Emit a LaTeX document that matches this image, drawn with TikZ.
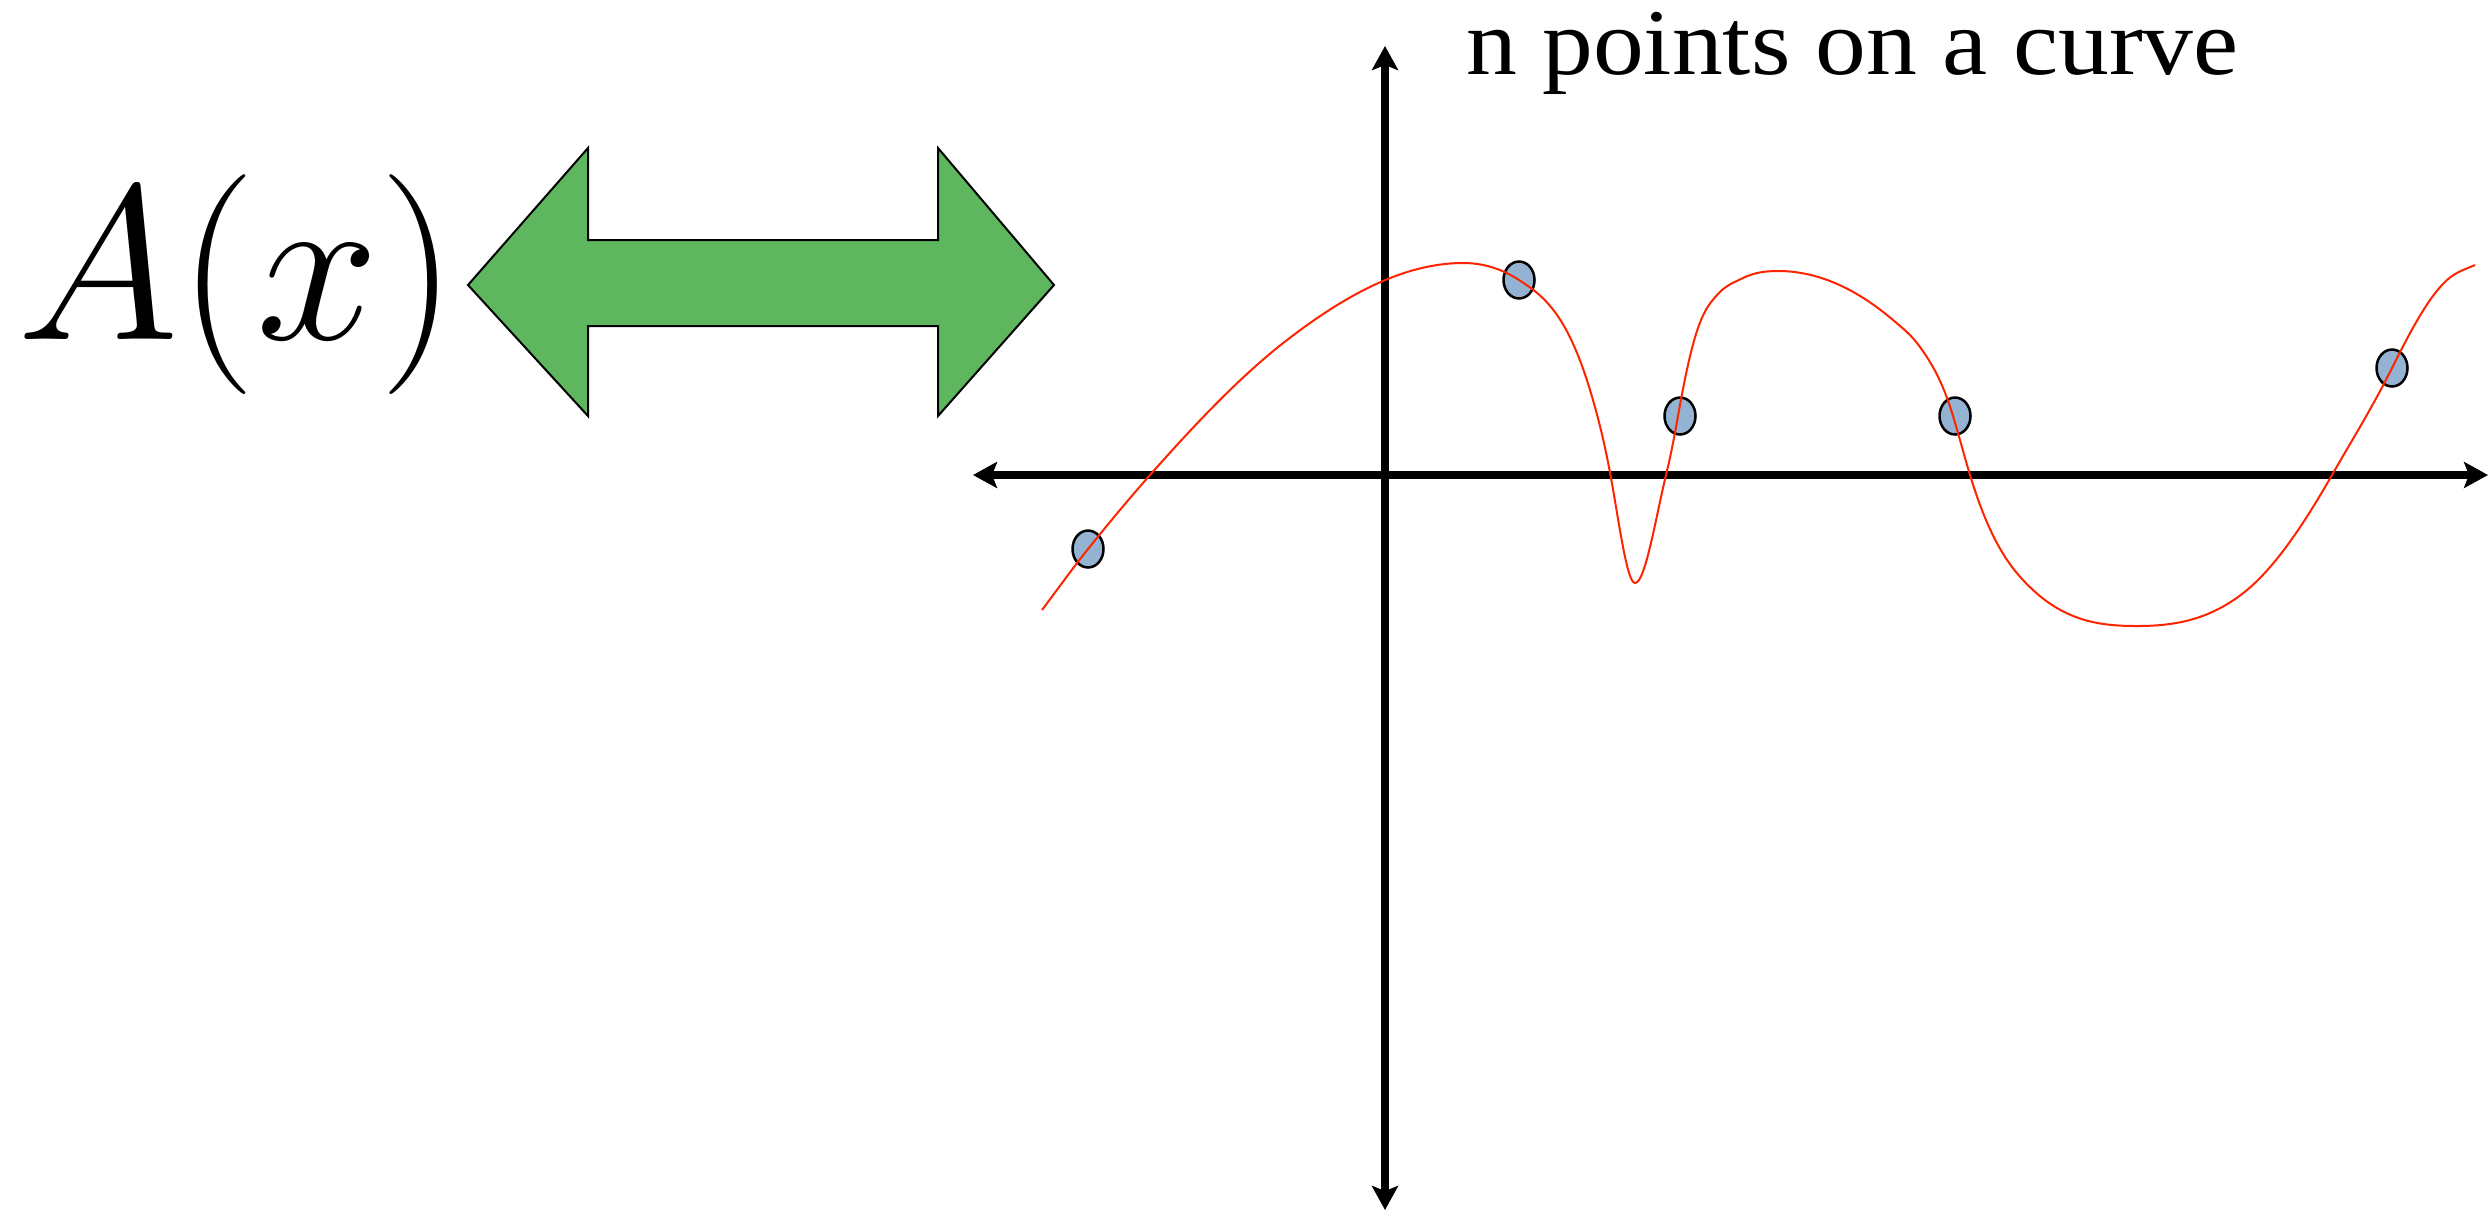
\RequirePackage{fix-cm}
\documentclass[tikz,border=0pt]{standalone}
\usepackage{fontspec}
\newfontfamily\titlefont{Liberation Serif}
\usetikzlibrary{arrows.meta,shapes.geometric}
\definecolor{arrowgreen}{RGB}{94,183,94}
\definecolor{ptblue}{RGB}{148,179,211}
\definecolor{curvered}{RGB}{255,36,0}
\tikzset{
  axis/.style={line width=7.5pt,{Stealth[length=24pt,width=26pt,inset=5pt]}-{Stealth[length=24pt,width=26pt,inset=5pt]}},
  datapt/.style={ellipse,draw=black,line width=2.5pt,fill=ptblue,minimum width=31pt,minimum height=37pt,inner sep=0pt},
  curve/.style={draw=curvered,line width=2pt},
  bigarrow/.style={draw=black,line width=2pt,fill=arrowgreen,line join=miter}
}
\begin{document}
\begin{tikzpicture}[x=1pt,y=-1pt]
\useasboundingbox (0,0) rectangle (2492,1211);
% axes
\coordinate (xl) at (973,475);
\coordinate (xr) at (2488,475);
\coordinate (yt) at (1385,46);
\coordinate (yb) at (1385,1210);
\draw[axis] (xl) -- (xr);
\draw[axis] (yt) -- (yb);
% label A(x)
\node[anchor=base west,inner sep=0pt] (Ax) at (17,339) {\fontsize{220}{220}\selectfont $A(x)$};
% title
\node[anchor=base west,inner sep=0pt,xscale=1.08] (title) at (1466,74) {\titlefont\fontsize{94}{100}\selectfont n points on a curve};
% green double arrow
\draw[bigarrow] (468,285) -- (588,148) -- (588,240) -- (938,240) -- (938,148) -- (1054,285)
  -- (938,416) -- (938,326) -- (588,326) -- (588,416) -- cycle;
% data points
\node[datapt] (p1) at (1088,549) {};
\node[datapt] (p2) at (1519,280) {};
\node[datapt] (p3) at (1680,416) {};
\node[datapt] (p4) at (1955,416) {};
\node[datapt] (p5) at (2392,368) {};
% curve
\draw[curve] (1042,610)
 .. controls (1057.3,589.6) and (1072.7,568.2) .. (1088,549)
 .. controls (1108.7,523.2) and (1129.3,498.4) .. (1150,475)
 .. controls (1195.7,423.4) and (1241.3,375.2) .. (1287,340)
 .. controls (1345.7,294.8) and (1404.3,263) .. (1463,263)
 .. controls (1481.7,263) and (1500.3,267.9) .. (1519,280)
 .. controls (1542.7,295.4) and (1566.3,311.9) .. (1590,390)
 .. controls (1597,413.1) and (1604,439.5) .. (1611,478)
 .. controls (1619,522) and (1627,583) .. (1635,583)
 .. controls (1645.3,583) and (1655.7,517.4) .. (1666,475)
 .. controls (1670,458.6) and (1674,438.8) .. (1678,416)
 .. controls (1695,319) and (1704.7,308.7) .. (1718,294)
 .. controls (1726.3,284.8) and (1734.7,282.2) .. (1743,278)
 .. controls (1754.7,272.2) and (1766.3,271) .. (1778,271)
 .. controls (1816.3,271) and (1854.7,287.4) .. (1893,320)
 .. controls (1902,327.7) and (1911,334.4) .. (1920,347)
 .. controls (1931,362.4) and (1942,379.7) .. (1953,416)
 .. controls (1958.7,434.7) and (1964.3,456.3) .. (1970,475)
 .. controls (1991,544.3) and (2012,570.5) .. (2033,590)
 .. controls (2067.7,622.2) and (2102.3,626) .. (2137,626)
 .. controls (2173.7,626) and (2210.3,620.4) .. (2247,590)
 .. controls (2275.3,566.5) and (2303.7,524.6) .. (2332,475)
 .. controls (2352,440) and (2372,408) .. (2392,368)
 .. controls (2410.3,331.3) and (2428.7,296.5) .. (2447,280)
 .. controls (2456.3,271.6) and (2465.7,269.2) .. (2475,265);
\end{tikzpicture}
\end{document}
